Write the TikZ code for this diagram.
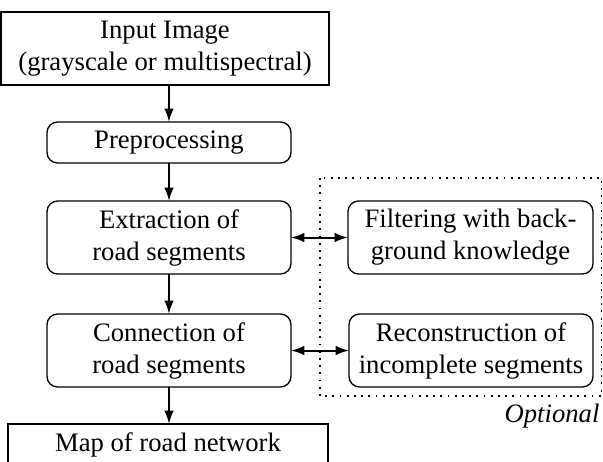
\documentclass[tikz,border=0pt]{standalone}
\usepackage{fontspec}
\setmainfont{Liberation Serif}
\newfontfamily\timesfont{Liberation Serif}
\usetikzlibrary{arrows.meta}
\begin{document}
\begin{tikzpicture}[x=0.375pt,y=-0.375pt,
  font=\timesfont\fontsize{10}{12}\selectfont,
  box/.style={draw,line width=0.5pt,inner sep=0pt,outer sep=0pt,align=center},
  sqbox/.style={box,rectangle},
  rbox/.style={box,rectangle,rounded corners=4pt,minimum width=91.5pt},
  one/.style={minimum height=15.4pt},
  two/.style={minimum height=27.4pt},
  tip/.tip={Latex[length=5pt,width=3.6pt]},
  arr/.style={line width=0.75pt,-tip},
  darr/.style={line width=0.75pt,tip-tip}]
\useasboundingbox (0,0) rectangle (603,461);
\node[sqbox,two,minimum width=123pt] (in) at (165,48.5) {Input Image\\(grayscale or multispectral)};
\node[rbox,one] (pre) at (169,142.5) {Preprocessing};
\node[rbox,two] (ext) at (169,237.5) {Extraction of\\road segments};
\node[rbox,two] (con) at (169,350.5) {Connection of\\road segments};
\node[sqbox,one,minimum width=120pt] (map) at (168,444.5) {Map of road network};
\node[rbox,two,minimum width=91.9pt] (fil) at (470.5,237.5) {Filtering with back-\\ground knowledge};
\node[rbox,two] (rec) at (471,350.5) {Reconstruction of\\incomplete segments};
\coordinate (o1) at (320,178);
\coordinate (o2) at (601.5,396);
\draw[dotted,line width=0.7pt] (o1) rectangle (o2);
\node[anchor=east,inner sep=0pt,font=\timesfont\fontsize{10}{12}\selectfont\itshape] (opt) at (600,416) {Optional};
\coordinate (inb) at (169,85);
\coordinate (mapt) at (169,424);
\draw[arr] (inb) -- (pre.north);
\draw[arr] (pre) -- (ext);
\draw[arr] (ext) -- (con);
\draw[arr] (con.south) -- (mapt);
\draw[darr] (ext) -- (fil);
\draw[darr] (con) -- (rec);
\end{tikzpicture}
\end{document}
